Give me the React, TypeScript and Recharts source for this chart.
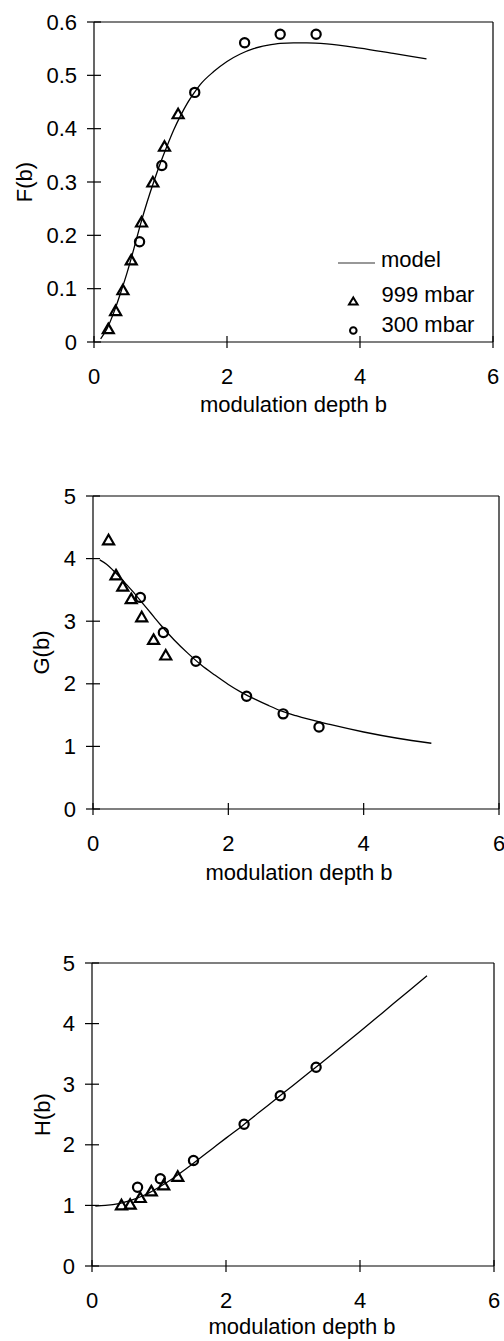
import React from 'react';
import { ComposedChart, Line, Scatter, XAxis, YAxis, ReferenceLine, Legend, Label } from 'recharts';

const FONT = '"Liberation Sans", Arial, Helvetica, sans-serif';
const FS = 22;

// ---------- shared ----------
const xTicks = [0, 2, 4, 6];
const xTitle = 'modulation depth b';

// ---------- F(b) ----------
const fModelB = [0.1, 0.2, 0.3, 0.4, 0.5, 0.6, 0.7, 0.8, 0.9, 1.0, 1.1, 1.2, 1.3, 1.4, 1.5, 1.6, 1.8, 2.0, 2.2, 2.4, 2.6, 2.8, 3.0, 3.2, 3.5, 4.0, 4.5, 5.0];
const fModelVal = [0.006, 0.026, 0.056, 0.092, 0.131, 0.175, 0.221, 0.263, 0.301, 0.336, 0.368, 0.398, 0.424, 0.447, 0.466, 0.483, 0.507, 0.526, 0.540, 0.550, 0.556, 0.560, 0.561, 0.561, 0.559, 0.551, 0.541, 0.531];
const f999B = [0.215, 0.325, 0.435, 0.56, 0.715, 0.885, 1.06, 1.265];
const f999Val = [0.025, 0.059, 0.098, 0.154, 0.225, 0.300, 0.367, 0.428];
const f300B = [0.685, 1.02, 1.515, 2.265, 2.80, 3.34];
const f300Val = [0.188, 0.331, 0.468, 0.561, 0.577, 0.577];
const fTicks = [0, 0.1, 0.2, 0.3, 0.4, 0.5, 0.6];
const fTickLabels = ['0', '0.1', '0.2', '0.3', '0.4', '0.5', '0.6'];

// ---------- G(b) ----------
const gModelB = [0.1, 0.2, 0.3, 0.4, 0.5, 0.6, 0.7, 0.8, 0.9, 1.0, 1.2, 1.4, 1.6, 1.8, 2.0, 2.2, 2.4, 2.6, 2.8, 3.0, 3.5, 4.0, 4.5, 5.0];
const gModelVal = [3.98, 3.91, 3.81, 3.70, 3.58, 3.46, 3.33, 3.20, 3.07, 2.94, 2.70, 2.49, 2.30, 2.14, 1.99, 1.86, 1.75, 1.65, 1.56, 1.49, 1.35, 1.23, 1.13, 1.05];
const g999B = [0.23, 0.34, 0.44, 0.565, 0.72, 0.895, 1.075];
const g999Val = [4.30, 3.74, 3.56, 3.36, 3.07, 2.71, 2.46];
const g300B = [0.70, 1.04, 1.52, 2.27, 2.81, 3.34];
const g300Val = [3.38, 2.82, 2.36, 1.80, 1.52, 1.31];
const gTicks = [0, 1, 2, 3, 4, 5];

// ---------- H(b) ----------
const hModelB = [0.05, 0.2, 0.4, 0.6, 0.8, 1.0, 1.2, 1.4, 1.6, 1.8, 2.0, 2.25, 2.5, 2.75, 3.0, 3.25, 3.5, 4.0, 4.5, 5.0];
const hModelVal = [0.99, 1.00, 1.03, 1.09, 1.18, 1.30, 1.44, 1.60, 1.77, 1.94, 2.11, 2.32, 2.54, 2.76, 2.98, 3.20, 3.42, 3.87, 4.33, 4.79];
const h999B = [0.44, 0.57, 0.72, 0.885, 1.07, 1.28];
const h999Val = [1.01, 1.02, 1.13, 1.24, 1.34, 1.48];
const h300B = [0.68, 1.02, 1.515, 2.27, 2.81, 3.345];
const h300Val = [1.30, 1.44, 1.74, 2.34, 2.81, 3.28];
const hTicks = [0, 1, 2, 3, 4, 5];

const zip = (xs: number[], ys: number[]) => xs.map((x, i) => ({ x, y: ys[i] }));

// ---------- shapes ----------
const TriangleShape = (props: any) => {
  const { cx, cy } = props;
  if (cx == null || cy == null) return null;
  return (
    <path
      d={`M${cx},${cy - 5} L${cx + 5.5},${cy + 4.5} L${cx - 5.5},${cy + 4.5} Z`}
      fill="none"
      stroke="#000"
      strokeWidth={2.2}
    />
  );
};

const CircleShape = (props: any) => {
  const { cx, cy } = props;
  if (cx == null || cy == null) return null;
  return <circle cx={cx} cy={cy} r={4.6} fill="none" stroke="#000" strokeWidth={2.2} />;
};

const XTick = (props: any) => {
  const { x, y, payload } = props;
  return (
    <g>
      <line x1={x} x2={x} y1={y - 6} y2={y + 6} stroke="#000" strokeWidth={1.2} />
      <text x={x} y={y + 34} textAnchor="middle" dominantBaseline="central" fontSize={FS} fontFamily={FONT} fill="#000">
        {payload.value}
      </text>
    </g>
  );
};

const makeYTick = (labels?: string[], ticks?: number[]) => (props: any) => {
  const { x, y, payload } = props;
  let txt = String(payload.value);
  if (labels && ticks) {
    const i = ticks.indexOf(payload.value);
    if (i >= 0) txt = labels[i];
  }
  return (
    <g>
      <line x1={x - 7} x2={x + 7} y1={y} y2={y} stroke="#000" strokeWidth={1.2} />
      <text x={x - 17} y={y} textAnchor="end" dominantBaseline="central" fontSize={FS} fontFamily={FONT} fill="#000">
        {txt}
      </text>
    </g>
  );
};

const makeXLabel = (dx: number, dy: number) => (p: any) => {
  const vb = p.viewBox || {};
  return (
    <text x={vb.x + vb.width / 2 + dx} y={vb.y + dy} textAnchor="middle" dominantBaseline="central" fontSize={FS} fontFamily={FONT} fill="#000">
      {xTitle}
    </text>
  );
};

const makeYLabel = (text: string, cxFromLeft: number) => (p: any) => {
  const vb = p.viewBox || {};
  const cx = vb.x + cxFromLeft;
  const cy = vb.y + vb.height / 2;
  return (
    <text x={cx} y={cy} transform={`rotate(-90, ${cx}, ${cy})`} textAnchor="middle" dominantBaseline="central" fontSize={FS} fontFamily={FONT} fill="#000">
      {text}
    </text>
  );
};

const LegendContent = () => (
  <svg width={170} height={100} style={{ overflow: 'visible' }}>
    <line x1={8} x2={45} y1={23} y2={23} stroke="#333" strokeWidth={1.2} />
    <text x={51} y={19.5} dominantBaseline="central" fontSize={FS} fontFamily={FONT} fill="#000">model</text>
    <path d="M23.3,57.5 L27.6,64.5 L19,64.5 Z" fill="none" stroke="#000" strokeWidth={2} />
    <text x={51.5} y={54} dominantBaseline="central" fontSize={FS} fontFamily={FONT} fill="#000">999 mbar</text>
    <circle cx={23.3} cy={90.5} r={3.3} fill="none" stroke="#000" strokeWidth={2} />
    <text x={51.5} y={84.5} dominantBaseline="central" fontSize={FS} fontFamily={FONT} fill="#000">300 mbar</text>
  </svg>
);

type PanelProps = {
  top: number;
  height: number;
  margin: { top: number; right: number; bottom: number; left: number };
  yWidth: number;
  xHeight: number;
  yMax: number;
  yTicks: number[];
  yTickLabels?: string[];
  yTitle: string;
  yTitleX: number;
  xTitleDx: number;
  xTitleDy: number;
  model: { x: number; y: number }[];
  s999: { x: number; y: number }[];
  s300: { x: number; y: number }[];
  legend?: boolean;
};

const Panel = (p: PanelProps) => (
  <div style={{ position: 'absolute', left: 0, top: p.top, width: 504, height: p.height }}>
    <ComposedChart width={504} height={p.height} margin={p.margin} style={{ overflow: 'visible' }}>
      <XAxis
        type="number"
        dataKey="x"
        domain={[0, 6]}
        ticks={xTicks}
        height={p.xHeight}
        tickSize={0}
        tickMargin={0}
        tickLine={false}
        axisLine={{ stroke: '#000', strokeWidth: 1.2 }}
        tick={<XTick />}
        interval={0}
        allowDataOverflow
      >
        <Label content={makeXLabel(p.xTitleDx, p.xTitleDy)} />
      </XAxis>
      <YAxis
        type="number"
        dataKey="y"
        domain={[0, p.yMax]}
        ticks={p.yTicks}
        width={p.yWidth}
        tickSize={0}
        tickMargin={0}
        tickLine={false}
        axisLine={{ stroke: '#000', strokeWidth: 1.2 }}
        tick={makeYTick(p.yTickLabels, p.yTicks)}
        interval={0}
        allowDataOverflow
      >
        <Label content={makeYLabel(p.yTitle, p.yTitleX)} />
      </YAxis>
      <ReferenceLine y={p.yMax} stroke="#000" strokeWidth={1.2} />
      <ReferenceLine x={6} stroke="#000" strokeWidth={1.2} />
      <Line
        data={p.model}
        dataKey="y"
        type="monotone"
        stroke="#000"
        strokeWidth={1.3}
        dot={false}
        activeDot={false}
        isAnimationActive={false}
        name="model"
      />
      <Scatter data={p.s999} dataKey="y" shape={<TriangleShape />} isAnimationActive={false} name="999 mbar" />
      <Scatter data={p.s300} dataKey="y" shape={<CircleShape />} isAnimationActive={false} name="300 mbar" />
      {p.legend ? (
        <Legend
          layout="vertical"
          align="center"
          verticalAlign="middle"
          content={<LegendContent />}
          wrapperStyle={{ position: 'absolute', left: 330, top: 240, width: 170, height: 100 }}
        />
      ) : null}
    </ComposedChart>
  </div>
);

export default function App() {
  return (
    <div style={{ position: 'absolute', left: 0, top: 0, width: 504, height: 1341, background: '#fff', overflow: 'hidden' }}>
      <Panel
        top={0}
        height={460}
        margin={{ top: 22, right: 11, bottom: 0, left: 0 }}
        yWidth={94}
        xHeight={118}
        yMax={0.6}
        yTicks={fTicks}
        yTickLabels={fTickLabels}
        yTitle="F(b)"
        yTitleX={24}
        xTitleDx={0}
        xTitleDy={62}
        model={zip(fModelB, fModelVal)}
        s999={zip(f999B, f999Val)}
        s300={zip(f300B, f300Val)}
        legend
      />
      <Panel
        top={440}
        height={460}
        margin={{ top: 56, right: 5, bottom: 0, left: 0 }}
        yWidth={93}
        xHeight={91}
        yMax={5}
        yTicks={gTicks}
        yTitle="G(b)"
        yTitleX={41}
        xTitleDx={3}
        xTitleDy={63}
        model={zip(gModelB, gModelVal)}
        s999={zip(g999B, g999Val)}
        s300={zip(g300B, g300Val)}
      />
      <Panel
        top={880}
        height={461}
        margin={{ top: 83, right: 10, bottom: 0, left: 0 }}
        yWidth={92}
        xHeight={75}
        yMax={5}
        yTicks={hTicks}
        yTitle="H(b)"
        yTitleX={42}
        xTitleDx={9}
        xTitleDy={60}
        model={zip(hModelB, hModelVal)}
        s999={zip(h999B, h999Val)}
        s300={zip(h300B, h300Val)}
      />
    </div>
  );
}
